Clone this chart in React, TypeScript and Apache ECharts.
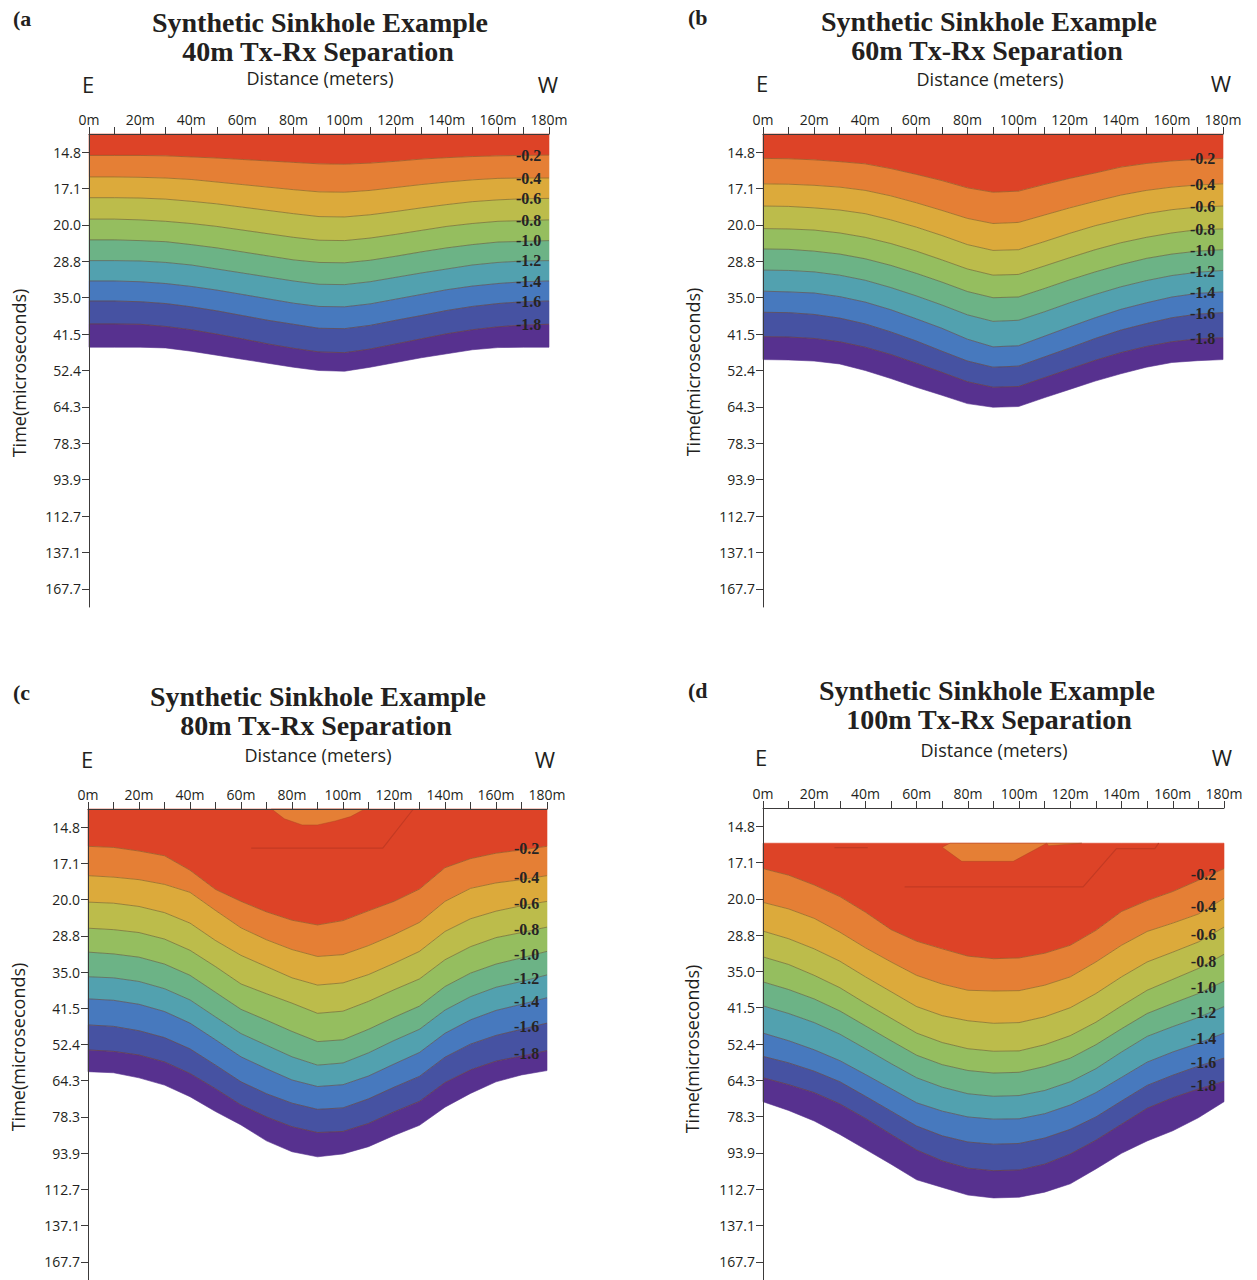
import React, { useEffect, useRef } from 'react';
import * as echarts from 'echarts';

// Sample positions along the profile (metres)
const distance = [0, 10, 20, 30, 40, 50, 60, 70, 80, 90, 100, 110, 120, 130, 140, 150, 160, 170, 180];

// Time gates shown on the vertical axis (microseconds)
const timeLabels = ['14.8', '17.1', '20.0', '28.8', '35.0', '41.5', '52.4', '64.3', '78.3', '93.9', '112.7', '137.1', '167.7'];

// Contour levels between the colour bands
const levelLabels = ['-0.2', '-0.4', '-0.6', '-0.8', '-1.0', '-1.2', '-1.4', '-1.6', '-1.8'];

const separations = ['40m', '60m', '80m', '100m'];
const panelLetters = ['(a', '(b', '(c', '(d'];

const bandColors = ['#dd4327', '#e57f35', '#dcaa3b', '#bcbc4b', '#95be5f', '#6cb386', '#52a1af', '#4779be', '#4652a2', '#57318f'];

// Contour boundaries in time-gate units (0 = 14.8 µs gate, 1 = 17.1 µs, ...),
// one row per level from -0.2 down to -1.8, last row = lower edge of the data.
const sep40 = [
  [0.09, 0.09, 0.09, 0.10, 0.13, 0.16, 0.20, 0.24, 0.28, 0.32, 0.33, 0.30, 0.25, 0.19, 0.15, 0.12, 0.10, 0.09, 0.08],
  [0.68, 0.68, 0.69, 0.71, 0.75, 0.82, 0.89, 0.96, 1.03, 1.09, 1.10, 1.05, 0.97, 0.89, 0.82, 0.76, 0.72, 0.71, 0.71],
  [1.25, 1.25, 1.26, 1.29, 1.35, 1.42, 1.51, 1.60, 1.69, 1.77, 1.78, 1.72, 1.63, 1.53, 1.44, 1.36, 1.31, 1.28, 1.27],
  [1.84, 1.84, 1.86, 1.90, 1.96, 2.04, 2.14, 2.24, 2.34, 2.42, 2.43, 2.36, 2.26, 2.15, 2.04, 1.96, 1.90, 1.88, 1.86],
  [2.41, 2.41, 2.43, 2.46, 2.54, 2.63, 2.74, 2.85, 2.96, 3.03, 3.04, 2.97, 2.86, 2.74, 2.63, 2.54, 2.47, 2.45, 2.43],
  [2.98, 2.98, 2.99, 3.03, 3.10, 3.21, 3.32, 3.43, 3.54, 3.63, 3.64, 3.56, 3.44, 3.32, 3.21, 3.10, 3.03, 2.99, 2.98],
  [3.54, 3.54, 3.56, 3.61, 3.69, 3.79, 3.91, 4.03, 4.15, 4.24, 4.25, 4.17, 4.04, 3.91, 3.78, 3.68, 3.61, 3.56, 3.54],
  [4.09, 4.09, 4.11, 4.16, 4.25, 4.36, 4.49, 4.62, 4.73, 4.84, 4.85, 4.76, 4.62, 4.49, 4.35, 4.24, 4.16, 4.11, 4.09],
  [4.72, 4.72, 4.73, 4.79, 4.88, 5.00, 5.13, 5.27, 5.39, 5.49, 5.51, 5.41, 5.27, 5.13, 4.99, 4.88, 4.80, 4.75, 4.73],
  [5.36, 5.36, 5.36, 5.38, 5.47, 5.58, 5.69, 5.80, 5.91, 6.00, 6.02, 5.91, 5.78, 5.65, 5.54, 5.43, 5.37, 5.36, 5.36],
];

const sep60 = [
  [0.17, 0.18, 0.21, 0.26, 0.32, 0.45, 0.61, 0.78, 0.98, 1.10, 1.07, 0.89, 0.72, 0.57, 0.41, 0.31, 0.24, 0.20, 0.17],
  [0.87, 0.88, 0.91, 0.96, 1.05, 1.20, 1.39, 1.60, 1.82, 1.96, 1.93, 1.73, 1.53, 1.35, 1.18, 1.05, 0.96, 0.90, 0.87],
  [1.48, 1.49, 1.53, 1.59, 1.69, 1.86, 2.06, 2.29, 2.54, 2.70, 2.68, 2.46, 2.23, 2.02, 1.85, 1.69, 1.58, 1.51, 1.48],
  [2.10, 2.11, 2.14, 2.22, 2.34, 2.51, 2.72, 2.96, 3.21, 3.38, 3.36, 3.13, 2.90, 2.68, 2.49, 2.34, 2.22, 2.13, 2.11],
  [2.66, 2.67, 2.72, 2.80, 2.93, 3.11, 3.33, 3.57, 3.83, 4.00, 3.98, 3.75, 3.51, 3.29, 3.09, 2.92, 2.80, 2.72, 2.68],
  [3.24, 3.25, 3.29, 3.38, 3.52, 3.72, 3.95, 4.20, 4.47, 4.65, 4.62, 4.39, 4.14, 3.91, 3.70, 3.53, 3.39, 3.30, 3.25],
  [3.82, 3.84, 3.87, 3.97, 4.12, 4.33, 4.58, 4.84, 5.14, 5.35, 5.32, 5.06, 4.80, 4.55, 4.32, 4.14, 3.98, 3.88, 3.84],
  [4.40, 4.41, 4.46, 4.56, 4.72, 4.94, 5.19, 5.47, 5.74, 5.91, 5.88, 5.63, 5.38, 5.12, 4.89, 4.71, 4.55, 4.45, 4.41],
  [5.07, 5.08, 5.12, 5.21, 5.36, 5.56, 5.80, 6.05, 6.31, 6.46, 6.44, 6.20, 5.96, 5.72, 5.51, 5.34, 5.21, 5.13, 5.10],
  [5.70, 5.71, 5.74, 5.82, 6.00, 6.22, 6.46, 6.68, 6.91, 7.01, 6.99, 6.75, 6.52, 6.29, 6.09, 5.91, 5.78, 5.73, 5.70],
];

const sep80 = [
  [0.53, 0.56, 0.66, 0.79, 1.19, 1.72, 2.05, 2.34, 2.57, 2.70, 2.58, 2.31, 2.05, 1.71, 1.12, 0.87, 0.72, 0.63, 0.53],
  [1.34, 1.38, 1.45, 1.58, 1.80, 2.30, 2.78, 3.11, 3.38, 3.57, 3.52, 3.27, 2.97, 2.63, 2.05, 1.69, 1.54, 1.45, 1.34],
  [2.07, 2.10, 2.19, 2.36, 2.65, 3.13, 3.54, 3.85, 4.16, 4.36, 4.30, 4.07, 3.76, 3.43, 2.88, 2.53, 2.32, 2.17, 2.05],
  [2.79, 2.83, 2.91, 3.09, 3.40, 3.85, 4.33, 4.60, 4.86, 5.14, 5.08, 4.81, 4.49, 4.19, 3.66, 3.30, 3.05, 2.91, 2.76],
  [3.45, 3.50, 3.59, 3.78, 4.09, 4.56, 5.03, 5.33, 5.64, 5.92, 5.87, 5.58, 5.25, 4.94, 4.40, 4.03, 3.78, 3.61, 3.43],
  [4.13, 4.16, 4.26, 4.46, 4.77, 5.24, 5.70, 6.02, 6.34, 6.57, 6.51, 6.23, 5.89, 5.58, 5.05, 4.68, 4.42, 4.26, 4.08],
  [4.74, 4.78, 4.89, 5.09, 5.41, 5.87, 6.34, 6.67, 6.98, 7.16, 7.11, 6.87, 6.54, 6.22, 5.69, 5.32, 5.06, 4.89, 4.71],
  [5.46, 5.50, 5.62, 5.81, 6.12, 6.57, 7.03, 7.36, 7.62, 7.79, 7.75, 7.50, 7.18, 6.88, 6.35, 5.99, 5.75, 5.58, 5.41],
  [6.15, 6.19, 6.29, 6.48, 6.80, 7.22, 7.67, 8.00, 8.27, 8.43, 8.40, 8.18, 7.86, 7.57, 7.05, 6.70, 6.46, 6.32, 6.17],
  [6.75, 6.78, 6.92, 7.12, 7.44, 7.85, 8.22, 8.66, 8.96, 9.10, 9.02, 8.82, 8.51, 8.23, 7.73, 7.35, 7.03, 6.84, 6.72],
];

const sep100 = [
  [1.17, 1.35, 1.62, 1.94, 2.37, 2.85, 3.17, 3.38, 3.58, 3.65, 3.63, 3.50, 3.28, 2.87, 2.35, 2.05, 1.80, 1.49, 1.17],
  [2.10, 2.28, 2.54, 2.92, 3.35, 3.74, 4.11, 4.35, 4.52, 4.54, 4.53, 4.38, 4.15, 3.74, 3.28, 2.90, 2.67, 2.42, 1.99],
  [2.89, 3.10, 3.38, 3.72, 4.15, 4.56, 4.97, 5.22, 5.36, 5.43, 5.41, 5.25, 5.00, 4.61, 4.15, 3.74, 3.47, 3.19, 2.78],
  [3.60, 3.81, 4.11, 4.45, 4.88, 5.29, 5.70, 5.96, 6.13, 6.20, 6.19, 6.02, 5.77, 5.40, 4.95, 4.52, 4.22, 3.92, 3.53],
  [4.29, 4.50, 4.76, 5.09, 5.50, 5.91, 6.31, 6.57, 6.73, 6.80, 6.78, 6.62, 6.39, 6.02, 5.58, 5.16, 4.88, 4.61, 4.27],
  [4.95, 5.16, 5.41, 5.73, 6.13, 6.54, 6.93, 7.19, 7.37, 7.44, 7.42, 7.28, 7.04, 6.68, 6.22, 5.79, 5.52, 5.27, 4.97],
  [5.70, 5.91, 6.16, 6.46, 6.84, 7.23, 7.62, 7.85, 8.01, 8.07, 8.06, 7.92, 7.68, 7.34, 6.92, 6.50, 6.22, 5.98, 5.70],
  [6.34, 6.52, 6.75, 7.04, 7.44, 7.85, 8.26, 8.53, 8.70, 8.76, 8.74, 8.59, 8.35, 8.01, 7.57, 7.14, 6.86, 6.61, 6.39],
  [6.93, 7.12, 7.34, 7.65, 8.05, 8.49, 8.92, 9.22, 9.42, 9.49, 9.47, 9.31, 9.03, 8.65, 8.21, 7.77, 7.48, 7.24, 7.03],
  [7.59, 7.83, 8.12, 8.49, 8.90, 9.31, 9.74, 9.95, 10.16, 10.24, 10.22, 10.08, 9.85, 9.44, 9.01, 8.67, 8.39, 8.03, 7.59],
];

// Upper edge of the gridded data for each separation (time-gate units)
const dataTop = [-0.5, -0.5, -0.5, 0.47];

// Small closed -0.2 islands near the surface, [distance, gate]
const patch80 = [[72, -0.5], [77, -0.23], [84, -0.06], [90, -0.06], [97, -0.17], [103, -0.29], [108, -0.48], [110, -0.5]];
const patch100 = [[73, 0.47], [70, 0.58], [77.6, 0.97], [97.7, 0.97], [110.8, 0.47]];
const sliver100 = [[110.8, 0.47], [111.5, 0.54], [124.5, 0.47]];

// Stray contour segments inside the shallow band, [distance, gate]
const trace80 = [[64, 0.58], [115.6, 0.58], [127.6, -0.5]];
const trace100a = [[55.3, 1.67], [125, 1.67], [138, 0.62], [153, 0.62], [154.5, 0.47]];
const trace100b = [[27.9, 0.59], [40.9, 0.59]];

const SANS = '"Open Sans", "Noto Sans", sans-serif';
const SERIF = '"Liberation Serif", "Times New Roman", serif';
const INK = '#231f20';
const AXIS = '#3c3a3a';
const LABEL_X = 172;

const panelRows = [sep40, sep60, sep80, sep100];
const panelPatches = [[], [], [patch80], [patch100, sliver100]];
const panelTraces = [[], [], [trace80], [trace100a, trace100b]];

const layouts = [
  { grid: { left: 89, top: 134, width: 460, height: 473 }, t1: [320, 22], t2: [318, 51], letter: [13, 18], dist: [320, 78], east: [88, 84], west: [548, 84], yName: [19, 373] },
  { grid: { left: 763, top: 134, width: 460, height: 473 }, t1: [989, 21], t2: [987, 50], letter: [688, 17], dist: [990, 79], east: [762, 83], west: [1221, 83], yName: [693, 372] },
  { grid: { left: 88, top: 809, width: 459, height: 471 }, t1: [318, 696], t2: [316, 725], letter: [13, 692], dist: [318, 755], east: [87, 759], west: [545, 759], yName: [18, 1047] },
  { grid: { left: 763, top: 808, width: 461, height: 474 }, t1: [987, 690], t2: [989, 719], letter: [688, 690], dist: [994, 750], east: [761, 757], west: [1222, 757], yName: [692, 1049] },
];

function text(x: number, y: number, content: string, font: string, extra: any = {}) {
  return {
    type: 'text',
    x,
    y,
    silent: true,
    ...extra,
    style: {
      text: content,
      font,
      fill: INK,
      align: extra.align || 'center',
      textAlign: extra.align || 'center',
      verticalAlign: 'middle',
      textVerticalAlign: 'middle',
    },
  };
}

function buildOption() {
  const graphic: any[] = [];
  const series: any[] = [];

  layouts.forEach((l, i) => {
    graphic.push(text(l.letter[0], l.letter[1], panelLetters[i], `bold 22px ${SERIF}`, { align: 'left' }));
    graphic.push(text(l.t1[0], l.t1[1], 'Synthetic Sinkhole Example', `bold 28px ${SERIF}`));
    graphic.push(text(l.t2[0], l.t2[1], `${separations[i]} Tx-Rx Separation`, `bold 28px ${SERIF}`));
    graphic.push(text(l.dist[0], l.dist[1], 'Distance (meters)', `18px ${SANS}`));
    graphic.push(text(l.east[0], l.east[1], 'E', `22px ${SANS}`));
    graphic.push(text(l.west[0], l.west[1], 'W', `22px ${SANS}`));
    graphic.push(text(l.yName[0], l.yName[1], 'Time(microseconds)', `18px ${SANS}`, { rotation: Math.PI / 2 }));

    const rows = panelRows[i];
    const top = distance.map(() => dataTop[i]);
    const edges = [top, ...rows];
    const yIdx = 2 * i + 1;

    // filled contour bands with their boundary lines
    series.push({
      type: 'custom',
      xAxisIndex: i,
      yAxisIndex: yIdx,
      silent: true,
      z: 2,
      data: bandColors.map((_, k) => [k, 0]),
      renderItem: (_p: any, api: any) => {
        const k = api.value(0) as number;
        const upper = edges[k];
        const lower = edges[k + 1];
        const upperPts = distance.map((x, j) => api.coord([x, upper[j]]));
        const lowerPts = distance.map((x, j) => api.coord([x, lower[j]]));
        const children: any[] = [
          {
            type: 'polygon',
            shape: { points: [...upperPts, ...lowerPts.slice().reverse()] },
            style: { fill: bandColors[k], stroke: bandColors[k], lineWidth: 0.6 },
          },
        ];
        if (k < bandColors.length - 1) {
          children.push({
            type: 'polyline',
            z2: 5,
            shape: { points: lowerPts },
            style: { fill: 'none', stroke: 'rgba(110,72,36,0.5)', lineWidth: 1 },
          });
        }
        return { type: 'group', children };
      },
    });

    panelPatches[i].forEach((patch) => {
      series.push({
        type: 'custom',
        xAxisIndex: i,
        yAxisIndex: yIdx,
        silent: true,
        z: 3,
        data: [[0, 0]],
        renderItem: (_p: any, api: any) => ({
          type: 'polygon',
          shape: { points: patch.map((pt) => api.coord(pt)) },
          style: { fill: bandColors[1], stroke: 'rgba(170,70,35,0.55)', lineWidth: 0.8 },
        }),
      });
    });

    panelTraces[i].forEach((trace) => {
      series.push({
        type: 'line',
        xAxisIndex: i,
        yAxisIndex: yIdx,
        silent: true,
        z: 3,
        symbol: 'none',
        data: trace,
        lineStyle: { color: '#c33a23', width: 1.2 },
      });
    });

    // contour level labels on the right-hand side
    series.push({
      type: 'custom',
      xAxisIndex: i,
      yAxisIndex: yIdx,
      silent: true,
      z: 4,
      data: levelLabels.map((_, k) => [k, 0]),
      renderItem: (_p: any, api: any) => {
        const k = api.value(0) as number;
        const row = rows[k];
        const y = (row[row.length - 2] + row[row.length - 1]) / 2;
        const [cx, cy] = api.coord([LABEL_X, y]);
        return {
          type: 'text',
          x: cx,
          y: cy,
          style: {
            text: levelLabels[k],
            font: `bold 16px ${SERIF}`,
            fill: '#262424',
            align: 'center',
            textAlign: 'center',
            verticalAlign: 'middle',
            textVerticalAlign: 'middle',
          },
        };
      },
    });
  });

  return {
    animation: false,
    backgroundColor: '#ffffff',
    textStyle: { fontFamily: SANS },
    grid: layouts.map((l) => ({ ...l.grid, show: false, containLabel: false })),
    xAxis: layouts.map((_, i) => ({
      gridIndex: i,
      type: 'value',
      position: 'top',
      min: 0,
      max: 180,
      interval: 10,
      z: 10,
      axisLine: { show: true, onZero: false, lineStyle: { color: AXIS, width: 1 } },
      axisTick: { show: true, length: 7, lineStyle: { color: AXIS, width: 1 } },
      axisLabel: {
        formatter: (v: number) => (v % 20 === 0 ? `${v}m` : ''),
        fontSize: 14,
        color: INK,
        margin: 8,
        fontFamily: SANS,
      },
      splitLine: { show: false },
    })),
    yAxis: layouts.flatMap((_, i) => [
      {
        gridIndex: i,
        type: 'category',
        data: timeLabels,
        inverse: true,
        boundaryGap: true,
        position: 'left',
        z: 10,
        axisLine: { show: true, onZero: false, lineStyle: { color: AXIS, width: 1 } },
        axisTick: { show: true, alignWithLabel: true, interval: 0, length: 7, lineStyle: { color: AXIS, width: 1 } },
        axisLabel: { interval: 0, fontSize: 14, color: INK, margin: 8, fontFamily: SANS },
        splitLine: { show: false },
      },
      {
        gridIndex: i,
        type: 'value',
        min: -0.5,
        max: 12.5,
        inverse: true,
        show: false,
        splitLine: { show: false },
      },
    ]),
    graphic,
    series,
  };
}

export default function App() {
  const ref = useRef<HTMLDivElement>(null);

  useEffect(() => {
    if (!ref.current) return;
    const chart = echarts.init(ref.current, undefined, { renderer: 'svg' });
    chart.setOption(buildOption() as any);
    return () => chart.dispose();
  }, []);

  return (
    <div
      ref={ref}
      style={{ position: 'absolute', left: 0, top: 0, width: 1257, height: 1280, background: '#ffffff' }}
    />
  );
}
